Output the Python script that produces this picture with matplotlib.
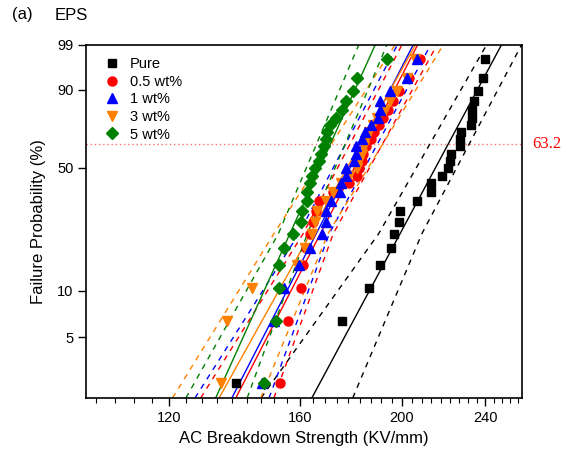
import numpy as np
import matplotlib.pyplot as plt
from matplotlib.ticker import FixedLocator, NullFormatter, FixedFormatter
import matplotlib.transforms as mtransforms

plt.rcParams['font.family'] = ['Liberation Sans', 'DejaVu Sans']

# failure probability (%) of the ranked points, shared by all series (n = 25)
failure_prob = [2.5, 6.4, 10.4, 14.4, 18.3, 22.3, 26.2, 30.2, 34.2, 38.1, 42.1, 46.0, 50.0,
                54.0, 57.9, 61.9, 65.8, 69.8, 73.8, 77.7, 81.7, 85.6, 89.6, 93.6, 97.5]

# AC breakdown strength (kV/mm), sorted
strength_pure = [138.9, 175.3, 185.9, 190.7, 195.3, 196.3, 198.5, 199.2, 206.9, 213.0, 213.0, 218.2, 221.0,
                 222.3, 222.8, 227.2, 227.2, 227.5, 232.5, 233.0, 233.0, 234.2, 236.1, 239.1, 240.0]
strength_05 = [153.2, 155.8, 160.1, 161.0, 162.0, 163.5, 164.5, 165.5, 166.6, 172.0, 177.9, 181.2, 182.0,
               183.2, 183.5, 185.0, 187.0, 188.0, 190.0, 192.0, 194.0, 196.0, 198.5, 203.0, 208.2]
strength_1 = [147.2, 151.0, 154.5, 159.7, 163.6, 167.8, 169.1, 169.3, 171.3, 174.5, 175.0, 176.9, 176.9,
              179.9, 180.6, 180.8, 183.2, 184.3, 187.0, 189.6, 190.7, 190.7, 194.9, 202.1, 206.6]
strength_3 = [134.4, 136.3, 144.0, 159.0, 161.8, 164.2, 165.2, 166.0, 169.1, 172.0, 175.0, 178.0, 181.2,
              182.0, 183.0, 184.0, 185.0, 185.9, 187.5, 189.3, 192.8, 195.0, 198.0, 202.0, 205.9]
strength_5 = [147.7, 151.6, 152.7, 152.7, 154.3, 157.4, 160.1, 160.6, 162.4, 162.4, 163.6, 164.2, 165.4,
              166.6, 167.3, 168.5, 169.1, 169.7, 170.9, 173.1, 175.3, 176.7, 179.5, 181.2, 193.5]

# Weibull fit (2 points) and confidence bounds (3 points): strength at these probabilities
fit_prob = [2, 99]
bound_prob = [2, 22.3, 99]
fit_pure, low_pure, up_pure = [164.1, 248.8], [146.8, 190.0, 240.8], [179.5, 208.9, 260.0]
fit_05, low_05, up_05 = [138.9, 207.0], [128.6, 161.0, 200.0], [151.0, 172.0, 216.0]
fit_1, low_1, up_1 = [137.7, 205.0], [127.0, 159.5, 198.0], [149.4, 170.5, 213.0]
fit_3, low_3, up_3 = [133.9, 206.0], [120.9, 151.0, 197.0], [146.7, 170.0, 219.0]
fit_5, low_5, up_5 = [132.9, 188.6], [124.5, 152.5, 181.9], [142.4, 162.5, 193.5]

labels = ['Pure', '0.5 wt%', '1 wt%', '3 wt%', '5 wt%']
colors = ['black', 'red', 'blue', '#ff8000', 'green']
markers = ['s', 'o', '^', 'v', 'D']
msizes = [5.5, 6.5, 7.5, 7.5, 6]


def weib_fwd(p):
    p = np.asarray(p, dtype=float)
    with np.errstate(all='ignore'):
        return np.log(-np.log(1 - p / 100.0))


def weib_inv(w):
    w = np.asarray(w, dtype=float)
    return 100.0 * (1 - np.exp(-np.exp(w)))


fig = plt.figure(figsize=(5.74, 4.51), dpi=100)
ax = fig.add_axes([0.1498, 0.1175, 0.759, 0.7834])
ax.set_xscale('log')
ax.set_yscale('function', functions=(weib_fwd, weib_inv))

series = [strength_pure, strength_05, strength_1, strength_3, strength_5]
fits = [fit_pure, fit_05, fit_1, fit_3, fit_5]
lows = [low_pure, low_05, low_1, low_3, low_5]
ups = [up_pure, up_05, up_1, up_3, up_5]

for fit, lo, up, c in zip(fits, lows, ups, colors):
    ax.plot(fit, fit_prob, color=c, lw=1.0, zorder=2)
    ax.plot(lo, bound_prob, color=c, lw=1.0, ls=(0, (4, 4)), zorder=2)
    ax.plot(up, bound_prob, color=c, lw=1.0, ls=(0, (4, 4)), zorder=2)

handles = {}
for i in [0, 1, 3, 2, 4]:
    h, = ax.plot(series[i], failure_prob, ls='none', marker=markers[i], ms=msizes[i],
                 color=colors[i], mec=colors[i], label=labels[i], zorder=3)
    handles[i] = h

ax.axhline(63.2, color='#ff7070', lw=1.0, ls=(0, (1, 2)), zorder=1)
trans = mtransforms.blended_transform_factory(ax.transAxes, ax.transData)
ax.text(1.025, 63.2, '63.2', transform=trans, color='red', fontsize=12,
        family='Liberation Serif', va='center', ha='left')

ax.set_xlim(100, 260)
ax.set_ylim(2, 99)

major_x = [120, 160, 200, 240]
ax.xaxis.set_major_locator(FixedLocator(major_x))
ax.xaxis.set_major_formatter(FixedFormatter([str(v) for v in major_x]))
minor_x = [v for v in np.arange(120 - 40, 280, 40 / 9) if 100 <= v <= 260]
ax.xaxis.set_minor_locator(FixedLocator(minor_x))
ax.xaxis.set_minor_formatter(NullFormatter())

major_y = [5, 10, 50, 90, 99]
ax.yaxis.set_major_locator(FixedLocator(major_y))
ax.yaxis.set_major_formatter(FixedFormatter([str(v) for v in major_y]))
ax.yaxis.set_minor_locator(FixedLocator([]))

ax.tick_params(axis='both', which='major', direction='out', length=6, width=1.0, labelsize=10.5, pad=3)
ax.tick_params(axis='x', which='minor', direction='out', length=3.5, width=0.8)
for s in ax.spines.values():
    s.set_linewidth(1.2)

ax.set_xlabel('AC Breakdown Strength (KV/mm)', fontsize=12, labelpad=5)
ax.set_ylabel('Failure Probability (%)', fontsize=12, labelpad=8)

ax.legend(handles=[handles[i] for i in range(5)], loc='upper left', bbox_to_anchor=(0.02, 0.99),
          frameon=False, fontsize=10.5, handletextpad=0.6, labelspacing=0.25, borderaxespad=0.2,
          handlelength=1.2)

fig.text(12 / 574, 1 - 15 / 451, '(a)', fontsize=12, va='center', ha='left')
fig.text(55 / 574, 1 - 15 / 451, 'EPS', fontsize=12, va='center', ha='left')

fig.savefig('out.png', dpi=100)
